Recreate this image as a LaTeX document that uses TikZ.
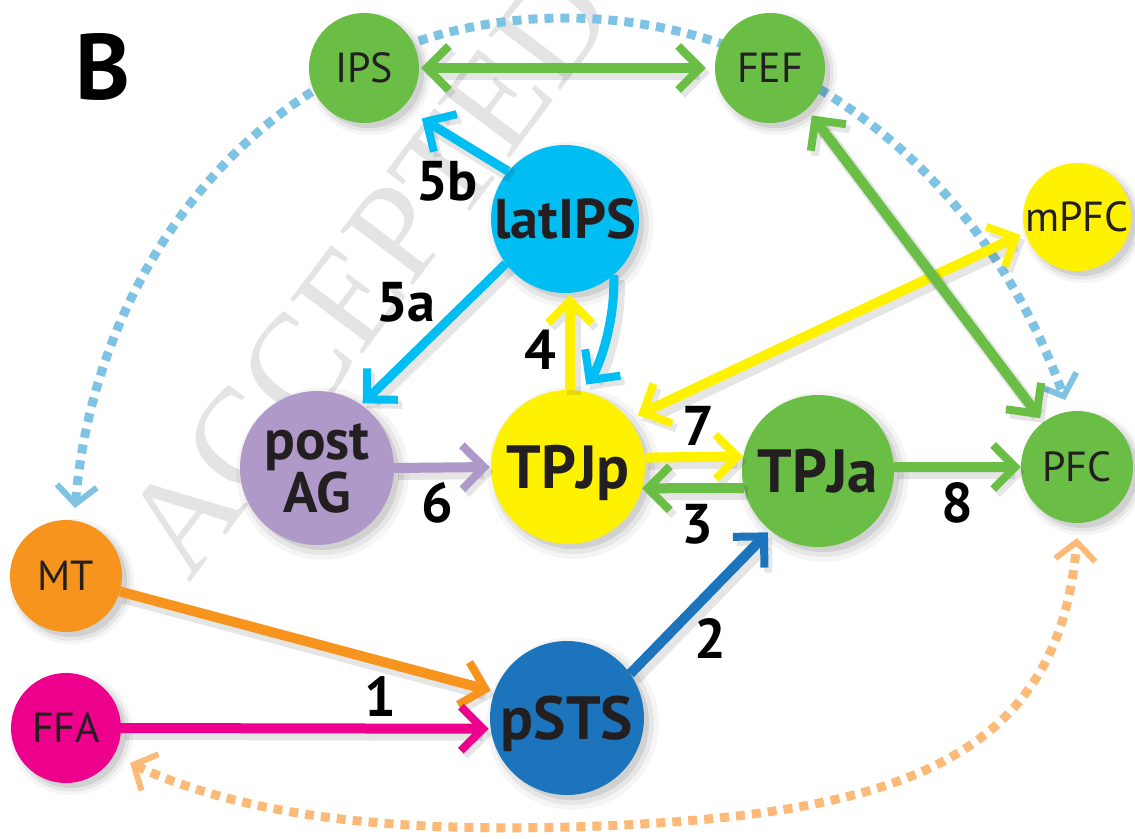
\documentclass[tikz,border=0pt]{standalone}
\usepackage{fontspec}
\setmainfont{PT Sans}
\newfontfamily\wmfont{Liberation Serif}
\usetikzlibrary{arrows.meta,shadows,backgrounds}
\definecolor{cgreen}{HTML}{6ABD45}
\definecolor{cyellow}{HTML}{FFF200}
\definecolor{ccyan}{HTML}{00BDF2}
\definecolor{cpurple}{HTML}{AE99C9}
\definecolor{cblue}{HTML}{1C75BC}
\definecolor{corange}{HTML}{F7941D}
\definecolor{cmagenta}{HTML}{EC008C}
\definecolor{cdotblue}{HTML}{7EC3E3}
\definecolor{cdotorange}{HTML}{FBBA78}
\definecolor{ctext}{HTML}{231F20}
\definecolor{cwm}{HTML}{E4E4E4}
\tikzset{
  circ/.style={circle, inner sep=0pt, text=ctext, text depth=0pt,
    general shadow={fill=black,opacity=.04,shadow xshift=5pt,shadow yshift=-5pt,shadow scale=1.12},
    general shadow={fill=black,opacity=.06,shadow xshift=5pt,shadow yshift=-5pt,shadow scale=1.06},
    general shadow={fill=black,opacity=.09,shadow xshift=5pt,shadow yshift=-5pt,shadow scale=1.0}},
  bigl/.style={font=\fontsize{61}{61}\selectfont\bfseries},
  smalll/.style={font=\fontsize{42}{42}\selectfont},
  num/.style={font=\fontsize{56}{56}\selectfont\bfseries, text=black, inner sep=0pt, text depth=0pt},
  shad/.style={preaction={draw=black, opacity=.10, line width=14pt, transform canvas={xshift=4pt,yshift=-5pt}}},
  arr/.style={shad, line width=10pt, -{Straight Barb[length=22pt,width=44pt,line width=8pt]}},
  arr2/.style={shad, line width=10pt, {Straight Barb[length=22pt,width=44pt,line width=8pt]}-{Straight Barb[length=22pt,width=44pt,line width=8pt]}},
  dots/.style={line width=9pt, dash pattern=on 9pt off 7pt, {Straight Barb[length=18pt,width=40pt,line width=6pt]}-{Straight Barb[length=18pt,width=40pt,line width=6pt]}},
}
\begin{document}
\begin{tikzpicture}[x=1pt,y=-1pt]
\useasboundingbox (0,0) rectangle (1135,838);
% nodes
\node[circ, fill=cgreen, smalll, minimum size=110pt] (IPS) at (364,68) {IPS};
\node[circ, fill=cgreen, smalll, minimum size=110pt] (FEF) at (770,68) {FEF};
\node[circ, fill=ccyan, font=\fontsize{56}{56}\selectfont\bfseries, minimum size=148pt] (latIPS) at (565,219) {latIPS};
\node[circ, fill=cyellow, smalll, minimum size=108pt] (mPFC) at (1077,217) {\makebox[0pt]{mPFC}};
\node[circ, fill=cpurple, font=\fontsize{57}{50}\selectfont\bfseries, align=center, minimum size=154pt] (postAG) at (317,468) {post\\AG};
\node[circ, fill=cyellow, bigl, minimum size=154pt] (TPJp) at (568,467) {TPJp};
\node[circ, fill=cgreen, bigl, minimum size=152pt] (TPJa) at (818,471) {TPJa};
\node[circ, fill=cgreen, smalll, minimum size=112pt] (PFC) at (1077,467) {PFC};
\node[circ, fill=corange, smalll, minimum size=112pt] (MT) at (66,576) {MT};
\node[circ, fill=cmagenta, smalll, minimum size=110pt] (FFA) at (66,728) {FFA};
\node[circ, fill=cblue, bigl, minimum size=154pt] (pSTS) at (567,718) {pSTS};
% labels
\node[num] (n5b) at (447,181) {5b};
\node[num] (n5a) at (406,302) {5a};
\node[num] (n4) at (540,350) {4};
\node[num] (n6) at (437,502) {6};
\node[num] (n7) at (698,426) {7};
\node[num] (n3) at (697,524) {3};
\node[num] (n8) at (957,503) {8};
\node[num] (n1) at (380,697) {1};
\node[num] (n2) at (710,638) {2};
\node[font=\fontsize{93}{93}\selectfont\bfseries, text=black, inner sep=0pt, text depth=0pt] (B) at (103,66) {B};
% connectors
\draw[arr2, draw=cgreen, shorten <=2pt, shorten >=9pt] (IPS.east) -- (FEF.west);
\draw[arr, draw=ccyan, line width=9pt, shorten >=22pt] (latIPS.140) -- (IPS.-45);
\draw[arr, draw=ccyan, line width=9pt, shorten >=2pt] (latIPS.217) -- (postAG.55);
\draw[arr, draw=cyellow, shorten >=2pt] ([xshift=2pt]TPJp.north) -- ([xshift=5pt]latIPS.south);
\draw[arr, draw=ccyan, line width=9pt, shorten >=8pt] (latIPS.-49) .. controls +(2,45) and +(18,-24) .. (TPJp.80);
\draw[arr, draw=cpurple, shorten >=1pt] (postAG.east) -- (TPJp.west);
\draw[arr, draw=cyellow] (TPJp.7) -- (TPJa.169);
\draw[arr, draw=cgreen] (TPJa.193) -- (TPJp.344);
\draw[arr, draw=cgreen] (TPJa.3) -- (PFC.west);
\draw[arr2, draw=cyellow, shorten <=10pt, shorten >=5pt] (TPJp.38) -- (mPFC.197);
\draw[arr2, draw=cgreen, shorten <=8pt, shorten >=5pt] (FEF.-48) -- (PFC.127);
\draw[arr, draw=corange, shorten >=4pt] (MT.-16) -- (pSTS.160);
\draw[arr, draw=cmagenta, shorten >=2pt] (FFA.east) -- (pSTS.188);
\draw[arr, draw=cblue, shorten >=3pt] (pSTS.35) -- (TPJa.231);
% background
\begin{pgfonlayer}{background}
\fill[white] (0,0) rectangle (1135,838);
\node[rotate=53, text=cwm, font=\wmfont\fontsize{138}{138}\selectfont, inner sep=0pt] (wm) at (368,272) {ACCEPTED};
\coordinate (bA) at ([shift={(9,-68)}]MT.center);
\coordinate (bB) at ([shift={(-12,-67)}]PFC.center);
\coordinate (oA) at ([shift={(64,35)}]FFA.center);
\coordinate (oB) at ([shift={(0,71)}]PFC.center);
\draw[dots, draw=cdotblue] (bA) .. controls (98,238) and (295,18) .. (565,18) .. controls (785,18) and (980,165) .. (bB);
\draw[dots, draw=cdotorange] (oA) .. controls (265,826) and (440,832) .. (600,826) .. controls (900,814) and (1059,758) .. (oB);
\end{pgfonlayer}
\end{tikzpicture}
\end{document}
